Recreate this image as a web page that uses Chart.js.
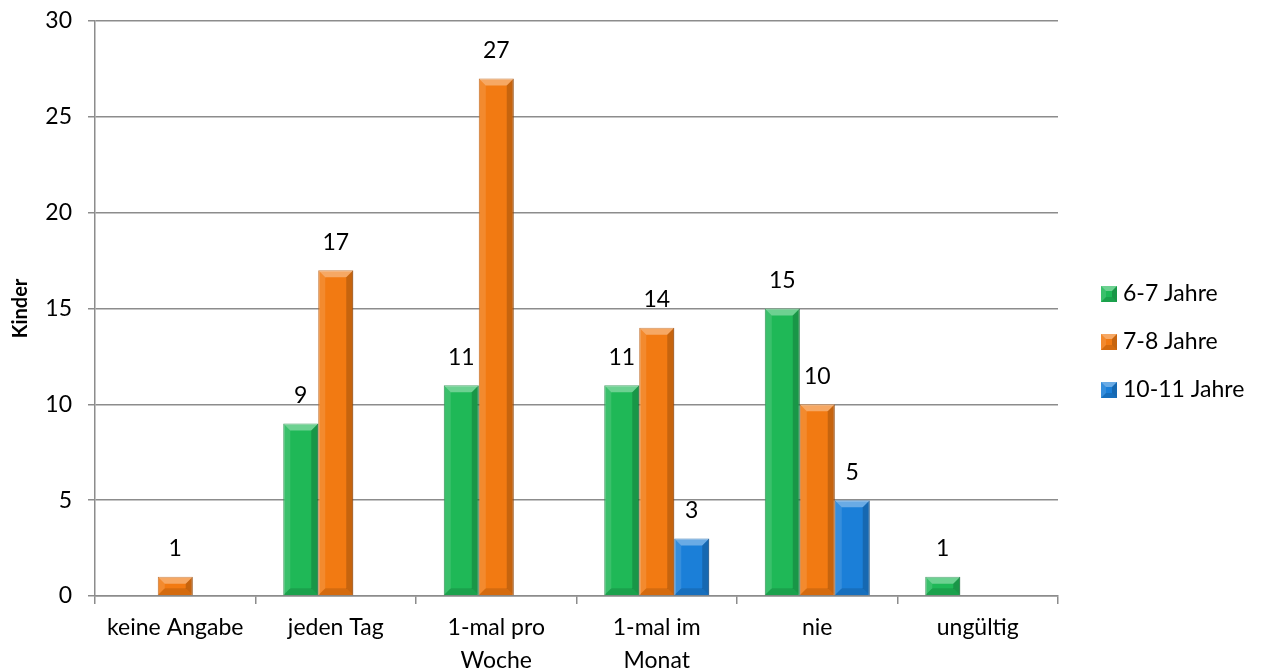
<!DOCTYPE html>
<html>
<head>
<meta charset="utf-8">
<script src="https://cdn.jsdelivr.net/npm/chart.js@4/dist/chart.umd.min.js"></script>
<style>
  html, body { margin: 0; padding: 0; background: #fff; }
  #can { width: 1263px; height: 672px; }
</style>
</head>
<body>
<div id="can"><canvas id="chart" width="1263" height="672"></canvas></div>
<script>
let categories = ['keine Angabe', 'jeden Tag', ['1-mal pro', 'Woche'], ['1-mal im', 'Monat'], 'nie', 'ungültig']
let seriesNames = ['6-7 Jahre', '7-8 Jahre', '10-11 Jahre']
let jahre67 = [null, 9, 11, 11, 15, 1]
let jahre78 = [1, 17, 27, 14, 10, null]
let jahre1011 = [null, null, null, 3, 5, null]
let yTicks = [0, 5, 10, 15, 20, 25, 30]

let fontFam = 'Lato, "Open Sans", sans-serif'

// value labels above bars
const valueLabels = {
  id: 'valueLabels',
  afterDatasetsDraw(chart) {
    let ctx = chart.ctx
    ctx.save()
    ctx.font = '23px ' + fontFam
    ctx.fillStyle = '#000'
    ctx.textAlign = 'center'
    ctx.textBaseline = 'middle'
    chart.data.datasets.forEach((ds, i) => {
      chart.getDatasetMeta(i).data.forEach((bar, j) => {
        if (ds.data[j] == null) return
        ctx.fillText(ds.data[j], bar.x, bar.y - 28)
      })
    })
    ctx.restore()
  }
}

function bevelBox(ctx, l, t, r, b, d) {
  ctx.fillStyle = 'rgba(255,255,255,0.35)'
  ctx.beginPath(); ctx.moveTo(l, t); ctx.lineTo(r, t); ctx.lineTo(r - d, t + d); ctx.lineTo(l + d, t + d); ctx.closePath(); ctx.fill()
  ctx.fillStyle = 'rgba(255,255,255,0.12)'
  ctx.beginPath(); ctx.moveTo(l, t); ctx.lineTo(l + d, t + d); ctx.lineTo(l + d, b - d); ctx.lineTo(l, b); ctx.closePath(); ctx.fill()
  ctx.fillStyle = 'rgba(0,0,0,0.18)'
  ctx.beginPath(); ctx.moveTo(r, t); ctx.lineTo(r - d, t + d); ctx.lineTo(r - d, b - d); ctx.lineTo(r, b); ctx.closePath(); ctx.fill()
  ctx.fillStyle = 'rgba(0,0,0,0.12)'
  ctx.beginPath(); ctx.moveTo(l, b); ctx.lineTo(l + d, b - d); ctx.lineTo(r - d, b - d); ctx.lineTo(r, b); ctx.closePath(); ctx.fill()
}

// simple bevel look on the bars
const bevel = {
  id: 'bevel',
  afterDatasetsDraw(chart) {
    let ctx = chart.ctx
    ctx.save()
    chart.data.datasets.forEach((ds, i) => {
      chart.getDatasetMeta(i).data.forEach((bar, j) => {
        if (ds.data[j] == null) return
        let w = bar.width
        bevelBox(ctx, bar.x - w / 2, bar.y, bar.x + w / 2, bar.base, Math.min(7, (bar.base - bar.y) / 2))
      })
    })
    ctx.restore()
  }
}

// legend on the right, like the office chart
const sideLegend = {
  id: 'sideLegend',
  afterDraw(chart) {
    let ctx = chart.ctx
    let ys = [294, 342, 390]
    ctx.save()
    ctx.font = '23px ' + fontFam
    ctx.textBaseline = 'middle'
    ctx.textAlign = 'left'
    chart.data.datasets.forEach((ds, i) => {
      let x = 1101, y = ys[i] - 8
      ctx.fillStyle = ds.backgroundColor
      ctx.fillRect(x, y, 16, 16)
      bevelBox(ctx, x, y, x + 16, y + 16, 5)
      ctx.fillStyle = '#000'
      ctx.fillText(ds.label, 1123, ys[i])
    })
    ctx.restore()
  }
}

let data = {
  labels: categories,
  datasets: [{
    label: seriesNames[0],
    data: jahre67,
    backgroundColor: '#1fb857',
    borderColor: '#15873f',
    borderWidth: 1,
  }, {
    label: seriesNames[1],
    data: jahre78,
    backgroundColor: '#f27a12',
    borderColor: '#b9590a',
    borderWidth: 1,
  }, {
    label: seriesNames[2],
    data: jahre1011,
    backgroundColor: '#1b7fd8',
    borderColor: '#125ea3',
    borderWidth: 1,
  }]
}

const config = {
  type: 'bar',
  data: data,
  plugins: [bevel, valueLabels, sideLegend],
  options: {
    responsive: false,
    animation: false,
    categoryPercentage: 0.654,
    barPercentage: 1,
    layout: { padding: { top: 21, left: 0, right: 205, bottom: 0 } },
    scales: {
      x: {
        afterFit: (axis) => { axis.height = 76 },
        grid: { drawOnChartArea: false, drawTicks: true, tickLength: 8, color: '#8c8c8c', lineWidth: 1.5, offset: true },
        border: { color: '#8c8c8c', width: 1.5 },
        ticks: { color: '#000', font: { size: 23, family: fontFam, lineHeight: 1.43 }, padding: 7, maxRotation: 0, autoSkip: false }
      },
      y: {
        min: 0,
        max: 30,
        afterFit: (axis) => { axis.width = 95; axis.paddingTop = 0; axis.paddingBottom = 0 },
        afterBuildTicks: (axis) => { axis.ticks = yTicks.map(v => ({ value: v })) },
        grid: { color: '#8c8c8c', lineWidth: 1.5, tickLength: 7 },
        border: { color: '#8c8c8c', width: 1.5 },
        ticks: { color: '#000', font: { size: 23, family: fontFam }, padding: 16 },
        title: { display: true, text: 'Kinder', color: '#000', font: { size: 20, weight: 'bold', family: fontFam }, padding: { top: 9, bottom: 0 } }
      }
    },
    plugins: {
      legend: { display: false },
      tooltip: { enabled: false }
    }
  }
}

const chart = new Chart(document.getElementById('chart'), config)
</script>
</body>
</html>
